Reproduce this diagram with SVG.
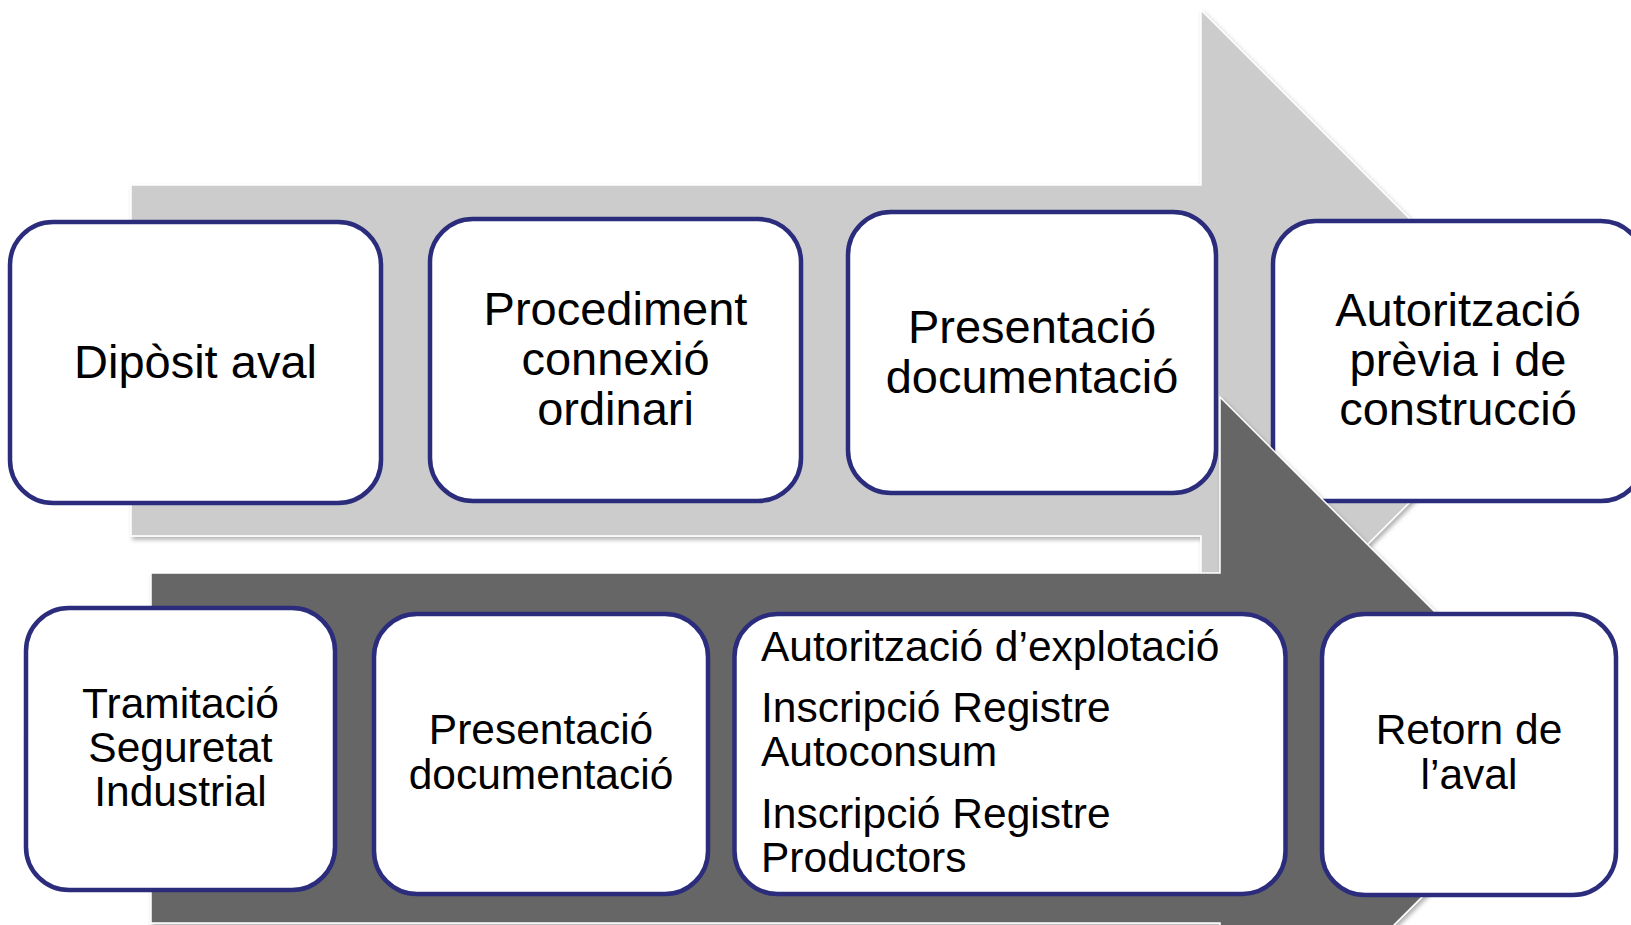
<svg xmlns="http://www.w3.org/2000/svg" width="1631" height="925" viewBox="0 0 1631 925">
<defs>
<filter id="sh" x="-5%" y="-5%" width="110%" height="115%">
<feDropShadow dx="2" dy="3" stdDeviation="2" flood-color="#000" flood-opacity="0.3"/>
</filter>
<style>
.box{fill:#fff;stroke:#2b2d7c;stroke-width:4.5}
.t{font-family:"Liberation Sans",Arial,sans-serif;fill:#000}
.big{font-size:47px;text-anchor:middle}
.sm{font-size:42.5px;text-anchor:middle}
.lft{font-size:42.5px;text-anchor:start}
.arrow{stroke:#fff;stroke-width:1.5;filter:url(#sh)}
</style>
</defs>
<rect width="1631" height="925" fill="#fff"/>
<g id="connectors">
<path id="arrow-top" class="arrow" fill="#cccccc" d="M131,185 L1201,185 L1201,10 L1551.5,360.5 L1201,711 L1201,536 L131,536 Z"/>
</g>
<g id="n1"><rect class="box" x="10" y="222" width="371" height="281" rx="43"/><text class="t big" x="195.5" y="378">Dipòsit aval</text></g>
<g id="n2"><rect class="box" x="430" y="219" width="371" height="282" rx="43"/><text class="t big" x="615.5" y="325">Procediment</text><text class="t big" x="615.5" y="375">connexió</text><text class="t big" x="615.5" y="425">ordinari</text></g>
<g id="n3"><rect class="box" x="848" y="212" width="368" height="281" rx="43"/><text class="t big" x="1032" y="343">Presentació</text><text class="t big" x="1032" y="393">documentació</text></g>
<g id="n4"><rect class="box" x="1273" y="221" width="371" height="280" rx="43"/><text class="t big" x="1458" y="326">Autorització</text><text class="t big" x="1458" y="375.5">prèvia i de</text><text class="t big" x="1458" y="425">construcció</text></g>
<g id="connectors2">
<path id="arrow-bottom" class="arrow" fill="#666666" d="M151,573 L1220,573 L1220,397 L1571,748 L1220,1099 L1220,923 L151,923 Z"/>
</g>
<g id="n5"><rect class="box" x="26" y="608" width="309" height="282" rx="43"/><text class="t sm" x="180.5" y="718">Tramitació</text><text class="t sm" x="180.5" y="762">Seguretat</text><text class="t sm" x="180.5" y="806">Industrial</text></g>
<g id="n6"><rect class="box" x="374" y="614" width="334" height="280" rx="43"/><text class="t sm" x="541" y="744">Presentació</text><text class="t sm" x="541" y="789">documentació</text></g>
<g id="n7"><rect class="box" x="734.5" y="614" width="551" height="280" rx="43"/><text class="t lft" x="761" y="661">Autorització d’explotació</text><text class="t lft" x="761" y="722">Inscripció Registre</text><text class="t lft" x="761" y="766">Autoconsum</text><text class="t lft" x="761" y="828">Inscripció Registre</text><text class="t lft" x="761" y="872">Productors</text></g>
<g id="n8"><rect class="box" x="1322" y="614" width="294" height="281" rx="43"/><text class="t sm" x="1469" y="744">Retorn de</text><text class="t sm" x="1469" y="789">l’aval</text></g>
</svg>
